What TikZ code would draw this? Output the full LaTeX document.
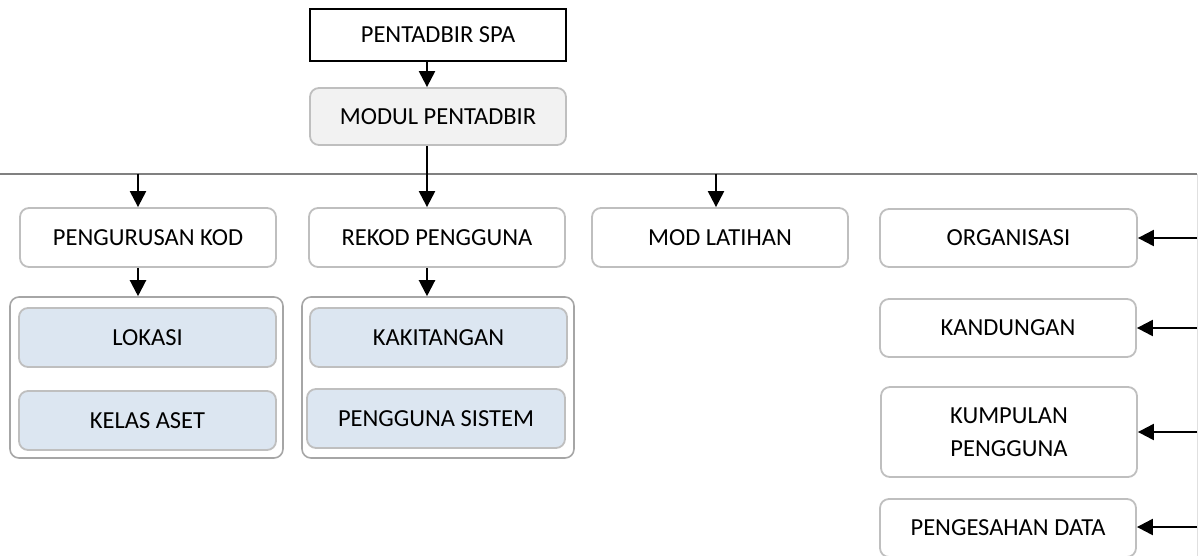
\documentclass[tikz,border=0pt]{standalone}
\usepackage{fontspec}
\setmainfont{Carlito}
\usetikzlibrary{arrows.meta,calc}
\definecolor{bord}{HTML}{BFBFBF}
\definecolor{grpbord}{HTML}{A6A6A6}
\definecolor{modfill}{HTML}{F2F2F2}
\definecolor{subfill}{HTML}{DCE6F1}
\definecolor{hline}{HTML}{808080}
\tikzset{
  base/.style={font=\fontsize{24.5}{33.5}\selectfont, align=center, inner sep=0pt, text=black},
  topbox/.style={base, draw=black, line width=1.6pt, minimum width=256pt, minimum height=52pt},
  rbox/.style={base, draw=bord, line width=1.8pt, rounded corners=9pt, fill=white},
  modbox/.style={rbox, fill=modfill},
  subbox/.style={rbox, fill=subfill},
  grp/.style={draw=grpbord, line width=1.6pt, rounded corners=9pt, inner sep=0pt},
  arr/.style={draw=black, line width=2.2pt, -{Triangle[length=16pt,width=16pt]}},
  gline/.style={draw=hline, line width=1.8pt},
  fline/.style={draw=black!12, line width=1pt}
}
\begin{document}
\begin{tikzpicture}[x=1pt,y=-1pt]
\useasboundingbox (0,0) rectangle (1198,555);
% top
\node[topbox] (spa) at (438,35) {PENTADBIR SPA};
\node[modbox, minimum width=256pt, minimum height=57pt] (modul) at (438,116.5) {MODUL PENTADBIR};
% row
\node[rbox, minimum width=256pt, minimum height=59pt] (kod) at (148,237.5) {PENGURUSAN KOD};
\node[rbox, minimum width=256pt, minimum height=59pt] (rekod) at (437,237.5) {REKOD PENGGUNA};
\node[rbox, minimum width=256pt, minimum height=59pt] (mod) at (720,237.5) {MOD LATIHAN};
% right column
\node[rbox, minimum width=257pt, minimum height=58pt] (org) at (1008.5,238) {ORGANISASI};
\node[rbox, minimum width=256pt, minimum height=58pt] (kand) at (1008,328) {KANDUNGAN};
\node[rbox, minimum width=256pt, minimum height=90pt] (kump) at (1009,432) {KUMPULAN\\PENGGUNA};
\node[rbox, minimum width=256pt, minimum height=58pt] (peng) at (1008,528) {PENGESAHAN DATA};
% groups
\node[grp, minimum width=273pt, minimum height=161pt] (grpL) at (146.5,377.5) {};
\node[grp, minimum width=272pt, minimum height=161pt] (grpR) at (438,377.5) {};
\node[subbox, minimum width=257pt, minimum height=59pt] (lok) at (147.5,337.5) {LOKASI};
\node[subbox, minimum width=257pt, minimum height=59pt] (kelas) at (147.5,420.5) {KELAS ASET};
\node[subbox, minimum width=257pt, minimum height=59pt] (kaki) at (438.5,337.5) {KAKITANGAN};
\node[subbox, minimum width=258pt, minimum height=59pt] (pengs) at (436,418.5) {PENGGUNA SISTEM};
% bus lines
\coordinate (busL) at (0,174);
\coordinate (busR) at (1197,174);
\coordinate (busB) at (1197,556);
\draw[gline] (busL) -- (busR);
\draw[fline] (busR) -- (busB);
% arrows
\draw[arr] ($(spa.south)+(-11,0)$) -- ($(modul.north)+(-11,0)$);
\draw[arr] ($(modul.south)+(-11,0)$) -- ($(rekod.north)+(-10,0)$);
\draw[arr] ($(kod.north)+(-10,0)$) ++(0,-33.5) -- ($(kod.north)+(-10,0)$);
\draw[arr] ($(mod.north)+(-4,0)$) ++(0,-33.5) -- ($(mod.north)+(-4,0)$);
\draw[arr] ($(kod.south)+(-10,0)$) -- ($(grpL.north)+(-8.5,0)$);
\draw[arr] ($(rekod.south)+(-10,0)$) -- ($(grpR.north)+(-11,0)$);
\draw[arr] (busR |- org.east) -- (org.east);
\draw[arr] (busR |- kand.east) -- (kand.east);
\draw[arr] (busR |- kump.east) -- (kump.east);
\draw[arr] (busR |- peng.east) ++(0,-1) -- ($(peng.east)+(0,-1)$);
\end{tikzpicture}
\end{document}
